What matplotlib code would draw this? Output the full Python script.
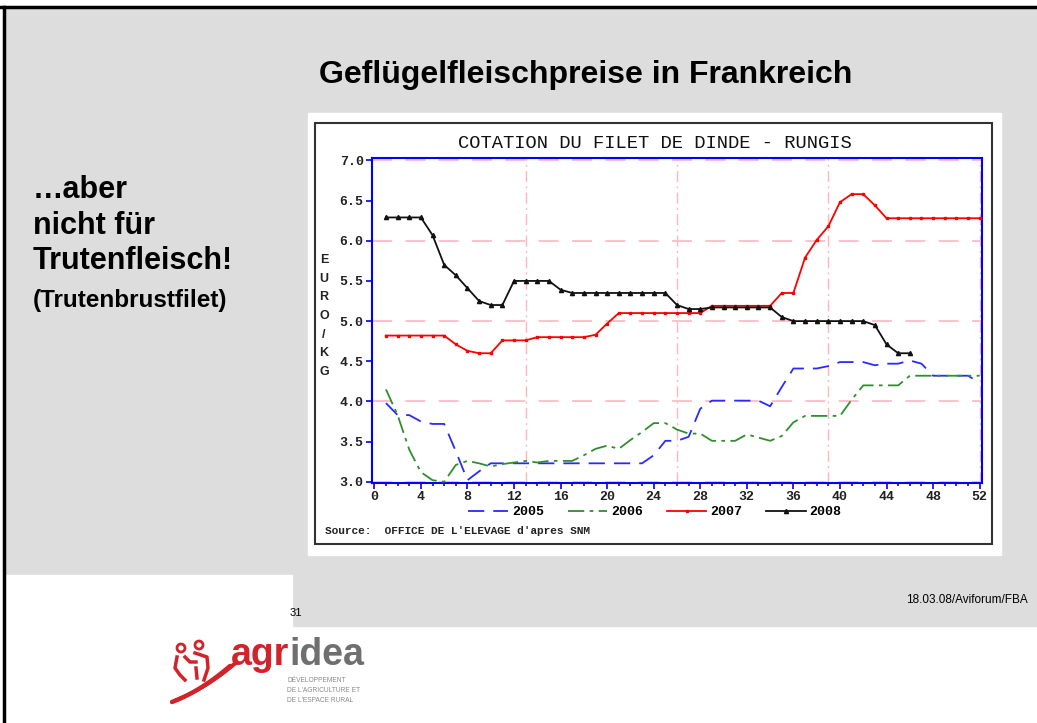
import numpy as np
import matplotlib
matplotlib.use("Agg")
import matplotlib.pyplot as plt
from matplotlib.patches import Rectangle, Circle

# Wochen und Preise (EURO / KG)
weeks = np.arange(1, 53)

p2005 = [3.98, 3.83, 3.83, 3.75, 3.72, 3.72, 3.38, 3.02, 3.13, 3.23,
         3.23, 3.23, 3.23, 3.23, 3.23, 3.23, 3.23, 3.23, 3.23, 3.23,
         3.23, 3.23, 3.23, 3.33, 3.51, 3.51, 3.56, 3.91, 4.01, 4.01,
         4.01, 4.01, 4.01, 3.94, 4.18, 4.41, 4.41, 4.41, 4.44, 4.49,
         4.49, 4.49, 4.45, 4.47, 4.47, 4.51, 4.47, 4.32, 4.32, 4.32,
         4.32, 4.23]

p2006 = [4.15, 3.83, 3.40, 3.12, 3.02, 3.00, 3.21, 3.26, 3.23, 3.19,
         3.22, 3.24, 3.26, 3.24, 3.26, 3.26, 3.26, 3.33, 3.41, 3.45,
         3.41, 3.52, 3.62, 3.73, 3.73, 3.65, 3.60, 3.60, 3.51, 3.51,
         3.51, 3.59, 3.55, 3.51, 3.57, 3.74, 3.82, 3.82, 3.82, 3.82,
         4.02, 4.20, 4.20, 4.20, 4.20, 4.32, 4.32, 4.32, 4.32, 4.32,
         4.32, 4.32]

p2007 = [4.82, 4.82, 4.82, 4.82, 4.82, 4.82, 4.71, 4.63, 4.60, 4.60,
         4.76, 4.76, 4.76, 4.80, 4.80, 4.80, 4.80, 4.80, 4.83, 4.97,
         5.10, 5.10, 5.10, 5.10, 5.10, 5.10, 5.10, 5.10, 5.19, 5.19,
         5.19, 5.19, 5.19, 5.19, 5.35, 5.35, 5.79, 6.01, 6.18, 6.48,
         6.58, 6.58, 6.44, 6.28, 6.28, 6.28, 6.28, 6.28, 6.28, 6.28,
         6.28, 6.28]

p2008 = [6.29, 6.29, 6.29, 6.29, 6.07, 5.70, 5.57, 5.41, 5.25, 5.20,
         5.20, 5.50, 5.50, 5.50, 5.50, 5.39, 5.35, 5.35, 5.35, 5.35,
         5.35, 5.35, 5.35, 5.35, 5.35, 5.20, 5.15, 5.15, 5.17, 5.17,
         5.17, 5.17, 5.17, 5.17, 5.05, 5.00, 5.00, 5.00, 5.00, 5.00,
         5.00, 5.00, 4.95, 4.71, 4.60, 4.60]

years = ["2005", "2006", "2007", "2008"]
left_lines = ["\u2026aber", "nicht f\u00fcr", "Trutenfleisch!"]

W, H = 1037, 723
fig = plt.figure(figsize=(W / 100, H / 100), dpi=100)

# Hintergrund der Folie (Pixelkoordinaten, y nach unten)
bg = fig.add_axes([0, 0, 1, 1], zorder=0)
bg.set_xlim(0, W)
bg.set_ylim(H, 0)
bg.axis("off")
bg.add_patch(Rectangle((0, 0), W, H, color="white"))
bg.add_patch(Rectangle((4, 7), W - 4, 619, color="#dddddd"))
bg.add_patch(Rectangle((4, 575), 288, 52, color="white"))
bg.plot([0, W], [7, 7], color="black", lw=2.5)
bg.plot([4, 4], [7, H], color="black", lw=2.5)
# Bildrahmen der Grafik
bg.add_patch(Rectangle((308, 113), 693, 442, color="white"))
bg.add_patch(Rectangle((315, 122.5), 677, 421.5, fill=False, ec="#333333", lw=1.5))

sans = "Liberation Sans"
mono = "Liberation Mono"

bg.text(586, 75, "Gefl\u00fcgelfleischpreise in Frankreich", ha="center", va="center",
        fontsize=23, fontweight="bold", family=sans)
for i, s in enumerate(left_lines):
    bg.text(33, 190 + i * 35.5, s, ha="left", va="center", fontsize=22,
            fontweight="bold", family=sans)
bg.text(33, 301, "(Trutenbrustfilet)", ha="left", va="center", fontsize=17.5,
        fontweight="bold", family=sans)

bg.text(655, 143, "COTATION DU FILET DE DINDE - RUNGIS", ha="center", va="center",
        fontsize=13.5, family=mono, color="#111111")
bg.text(324, 316, "E\nU\nR\nO\n/\nK\nG", ha="center", va="center", fontsize=9,
        fontweight="bold", family=sans, linespacing=1.75, color="#222222")
bg.text(325, 531, "Source:  OFFICE DE L'ELEVAGE d'apres SNM", ha="left", va="center",
        fontsize=8, family=mono, fontweight="bold", color="#222222")

bg.text(296, 613, "31", ha="center", va="center", fontsize=8, family=sans)
bg.text(1028, 600, "18.03.08/Aviforum/FBA", ha="right", va="center", fontsize=8.5,
        family=sans)

# Logo agridea
red = "#d3232a"
bg.add_patch(Circle((181, 648), 4, fill=False, ec=red, lw=2))
bg.add_patch(Circle((199, 645), 4, fill=False, ec=red, lw=2))
bg.plot([177, 175, 180, 185], [657, 668, 675, 680], color=red, lw=2.5)
bg.plot([185, 190, 196], [657, 662, 662], color=red, lw=2.5)
bg.plot([195, 207, 208, 204], [653, 657, 668, 680], color=red, lw=2.5)
bg.plot([196, 197], [668, 678], color=red, lw=2.5)
t = np.linspace(0, 1, 30)
for k, off in enumerate([0, 9, 18]):
    xs = 172 + off * 0.4 + 58 * t
    ys = 702 - off * 0.2 - 36 * t + 14 * t * (1 - t)
    bg.plot(xs, ys, color=red, lw=3.2 - k * 0.6, solid_capstyle="round")
agr = bg.text(231, 665, "agr", ha="left", va="baseline", fontsize=27,
              fontweight="bold", family=sans, color=red)
fig.canvas.draw()
ext = agr.get_window_extent()
x_end = bg.transData.inverted().transform((ext.x1, ext.y0))[0]
bg.text(x_end, 665, "idea", ha="left", va="baseline", fontsize=27,
        fontweight="bold", family=sans, color="#6f6f6f")
for i, s in enumerate(["D\u00c9VELOPPEMENT", "DE L'AGRICULTURE ET", "DE L'ESPACE RURAL"]):
    bg.text(287, 681 + i * 9.5, s, ha="left", va="center", fontsize=4.8,
            family=sans, color="#8a8a8a")

# Diagramm
ax = fig.add_axes([372 / W, 1 - 483 / H, (982 - 372) / W, (483 - 158) / H], zorder=2)
ax.set_xlim(-0.2, 52.2)
ax.set_ylim(2.985, 7.03)

pink = "#ffb6c1"
for yv in [3, 4, 5, 6, 7]:
    ax.axhline(yv, color=pink, lw=1.2, dashes=(12, 8), zorder=1)
for xv in [13, 26, 39, 52]:
    ax.axvline(xv, color=pink, lw=1, dashes=(8, 3, 1.5, 3), zorder=1)

l05, = ax.plot(weeks, p2005, color="#2a2aff", lw=1.3, dashes=(9, 5), zorder=3)
l06, = ax.plot(weeks, p2006, color="#2f8f2f", lw=1.3, dashes=(9, 3, 2, 3), zorder=3)
l07, = ax.plot(weeks, p2007, color="#ff0000", lw=1.3, marker="s", ms=2, zorder=4)
l08, = ax.plot(weeks[:len(p2008)], p2008, color="#111111", lw=1.3, marker="^", ms=3,
               zorder=5)

for sp in ax.spines.values():
    sp.set_color("#0000ff")
    sp.set_linewidth(1.5)
ax.set_xticks(np.arange(0, 53, 4))
ax.set_xticks(np.arange(0, 53, 1), minor=True)
ax.set_yticks(np.arange(3.0, 7.01, 0.5))
ax.set_yticklabels(["%.1f" % v for v in np.arange(3.0, 7.01, 0.5)])
ax.tick_params(axis="both", which="both", direction="out", color="#0000ff", width=1.2)
ax.tick_params(axis="both", which="major", length=4, pad=2)
ax.tick_params(axis="x", which="minor", length=2.5)
for lab in ax.get_xticklabels() + ax.get_yticklabels():
    lab.set_family(mono)
    lab.set_fontweight("bold")
    lab.set_fontsize(9.5)
    lab.set_color("#222222")

fig.legend([l05, l06, l07, l08], years, loc="center", ncol=4,
           bbox_to_anchor=(655 / W, 1 - 512 / H), frameon=False, handlelength=3,
           columnspacing=1.8, handletextpad=0.3,
           prop={"family": mono, "weight": "bold", "size": 9.5})

fig.savefig("out.png", dpi=100)
